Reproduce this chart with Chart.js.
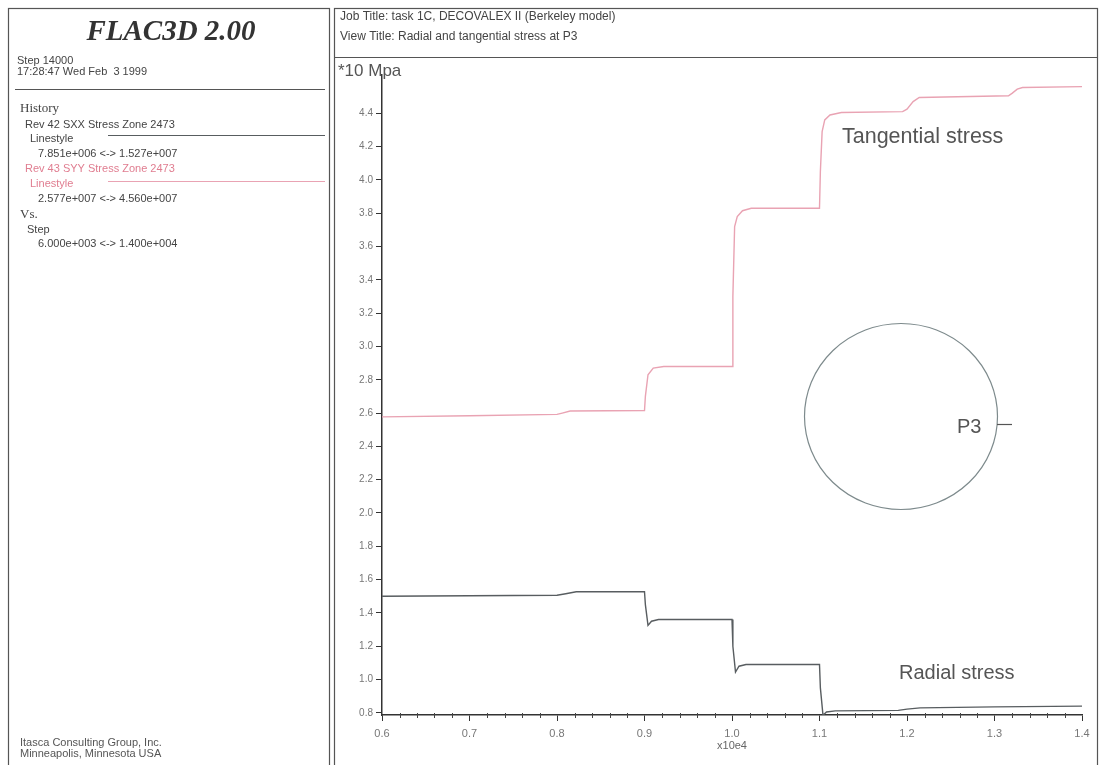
<!DOCTYPE html>
<html>
<head>
<meta charset="utf-8">
<title>FLAC3D 2.00 - Radial and tangential stress at P3</title>
<script src="https://cdn.jsdelivr.net/npm/chart.js@4.4.1/dist/chart.umd.min.js"></script>
<style>
  html, body { margin: 0; padding: 0; background: #ffffff; }
  #wrap { position: relative; width: 1101px; height: 765px; }
  canvas { display: block; }
</style>
</head>
<body>
<div id="wrap"><canvas id="plot" width="1101" height="765"></canvas></div>
<script>
// Step axis is in units of 10^4 steps, stresses in units of 10 MPa.
const xTicks = [0.6, 0.7, 0.8, 0.9, 1.0, 1.1, 1.2, 1.3, 1.4];
const yTicks = [0.8, 1.0, 1.2, 1.4, 1.6, 1.8, 2.0, 2.2, 2.4, 2.6, 2.8, 3.0, 3.2, 3.4, 3.6, 3.8, 4.0, 4.2, 4.4];

// Rev 43 SYY - tangential stress history
const tangentialStep = [0.600, 0.700, 0.800, 0.806, 0.815, 0.900, 0.901, 0.904, 0.910, 0.922,
                        1.000, 1.001, 1.003, 1.006, 1.012, 1.022, 1.100, 1.101, 1.103, 1.106,
                        1.112, 1.125, 1.195, 1.200, 1.207, 1.214, 1.316, 1.320, 1.326, 1.332, 1.400];
const tangential     = [2.577, 2.584, 2.592, 2.600, 2.612, 2.615, 2.70, 2.83, 2.870, 2.880,
                        2.880, 3.30, 3.72, 3.780, 3.815, 3.830, 3.830, 4.05, 4.290, 4.360,
                        4.390, 4.405, 4.410, 4.425, 4.470, 4.495, 4.505, 4.520, 4.545, 4.555, 4.560];

// Rev 42 SXX - radial stress history
const radialStep = [0.600, 0.700, 0.800, 0.810, 0.822, 0.900, 0.901, 0.904, 0.908, 0.916,
                    1.000, 1.001, 1.004, 1.008, 1.016, 1.100, 1.101, 1.104, 1.108, 1.118,
                    1.190, 1.200, 1.215, 1.300, 1.400];
const radial     = [1.500, 1.503, 1.506, 1.515, 1.527, 1.527, 1.45, 1.325, 1.350, 1.360,
                    1.360, 1.20, 1.045, 1.080, 1.090, 1.090, 0.95, 0.7851, 0.805, 0.812,
                    0.815, 0.822, 0.830, 0.836, 0.840];

const PINK = '#e9a3b3';
const DARK = '#585d60';

function pairs(xs, ys) { return xs.map((x, i) => ({ x: x, y: ys[i] })); }

// Frames, header and side panel text of the FLAC3D plot sheet
const sheet = {
  id: 'sheet',
  beforeDraw(chart) {
    const c = chart.ctx;
    c.save();
    c.fillStyle = '#ffffff';
    c.fillRect(0, 0, chart.width, chart.height);
    c.strokeStyle = '#555';
    c.lineWidth = 1.2;
    // left info panel
    c.strokeRect(8.5, 8.5, 321, 770);
    // right plot panel
    c.strokeRect(334.5, 8.5, 763, 770);
    c.beginPath(); c.moveTo(335, 57.5); c.lineTo(1097, 57.5); c.stroke();
    c.beginPath(); c.moveTo(15, 89.5); c.lineTo(325, 89.5); c.lineWidth = 1; c.stroke();

    c.textBaseline = 'middle';
    c.textAlign = 'center';
    c.fillStyle = '#333';
    c.font = 'bold italic 29px "Liberation Serif"';
    c.fillText('FLAC3D 2.00', 171, 33);

    c.textAlign = 'left';
    c.fillStyle = '#444';
    c.font = '11px "Liberation Sans"';
    c.fillText('Step 14000', 17, 61);
    c.fillText('17:28:47 Wed Feb  3 1999', 17, 72);

    c.font = '13px "Liberation Serif"';
    c.fillText('History', 20, 109);
    c.font = '11px "Liberation Sans"';
    c.fillText('Rev 42 SXX Stress Zone 2473', 25, 125);
    c.fillText('Linestyle', 30, 139);
    c.fillText('7.851e+006 <-> 1.527e+007', 38, 154);
    c.fillStyle = '#e07d90';
    c.fillText('Rev 43 SYY Stress Zone 2473', 25, 169);
    c.fillText('Linestyle', 30, 184);
    c.fillStyle = '#444';
    c.fillText('2.577e+007 <-> 4.560e+007', 38, 199);
    c.font = '13px "Liberation Serif"';
    c.fillText('Vs.', 20, 215);
    c.font = '11px "Liberation Sans"';
    c.fillText('Step', 27, 230);
    c.fillText('6.000e+003 <-> 1.400e+004', 38, 244);

    c.lineWidth = 1.2;
    c.strokeStyle = DARK;
    c.beginPath(); c.moveTo(108, 135.5); c.lineTo(325, 135.5); c.stroke();
    c.strokeStyle = PINK;
    c.beginPath(); c.moveTo(108, 181.5); c.lineTo(325, 181.5); c.stroke();

    c.fillStyle = '#555';
    c.fillText('Itasca Consulting Group, Inc.', 20, 743);
    c.fillText('Minneapolis, Minnesota USA', 20, 754);

    c.fillStyle = '#444';
    c.font = '12px "Liberation Sans"';
    c.fillText('Job Title: task 1C, DECOVALEX II (Berkeley model)', 340, 17);
    c.fillText('View Title: Radial and tangential stress at P3', 340, 37);

    c.fillStyle = '#555';
    c.font = '17px "Liberation Sans"';
    c.fillText('*10 Mpa', 338, 71);
    c.restore();
  },
  afterDraw(chart) {
    const c = chart.ctx;
    const xs = chart.scales.x;
    const a = chart.chartArea;
    c.save();
    // minor ticks on the step axis
    c.strokeStyle = '#444';
    c.lineWidth = 1;
    for (let i = 0; i < xTicks.length - 1; i++) {
      for (let k = 1; k < 5; k++) {
        const v = xTicks[i] + (xTicks[i + 1] - xTicks[i]) * k / 5;
        const px = Math.round(xs.getPixelForValue(v)) + 0.5;
        c.beginPath(); c.moveTo(px, a.bottom - 2); c.lineTo(px, a.bottom + 3); c.stroke();
      }
    }
    // tunnel section with the monitoring point P3
    c.strokeStyle = '#7d8a8c';
    c.lineWidth = 1.2;
    c.beginPath(); c.ellipse(901, 416.5, 96.5, 93, 0, 0, Math.PI * 2); c.stroke();
    c.strokeStyle = '#555';
    c.beginPath(); c.moveTo(997, 424.5); c.lineTo(1012, 424.5); c.stroke();

    c.fillStyle = '#555';
    c.textBaseline = 'middle';
    c.textAlign = 'left';
    c.font = '20px "Liberation Sans"';
    c.fillText('P3', 957, 427);
    c.font = '21.5px "Liberation Sans"';
    c.fillText('Tangential stress', 842, 137);
    c.font = '20px "Liberation Sans"';
    c.fillText('Radial stress', 899, 673);
    c.restore();
  }
};

new Chart(document.getElementById('plot'), {
  type: 'line',
  data: {
    datasets: [
      { label: 'Rev 42 SXX Stress Zone 2473', data: pairs(radialStep, radial),
        borderColor: DARK, borderWidth: 1.4, pointRadius: 0, tension: 0, fill: false },
      { label: 'Rev 43 SYY Stress Zone 2473', data: pairs(tangentialStep, tangential),
        borderColor: PINK, borderWidth: 1.4, pointRadius: 0, tension: 0, fill: false }
    ]
  },
  options: {
    responsive: false,
    animation: false,
    events: [],
    layout: { padding: { left: 338, top: 75, right: 19, bottom: 8 } },
    plugins: { legend: { display: false }, tooltip: { enabled: false }, title: { display: false } },
    scales: {
      x: {
        type: 'linear', min: 0.6, max: 1.4,
        afterBuildTicks: s => { s.ticks = xTicks.map(v => ({ value: v })); },
        afterFit: s => { s.height = 42; },
        border: { display: true, color: '#333', width: 1.5 },
        grid: { drawOnChartArea: false, drawTicks: true, tickLength: 6, color: '#333' },
        ticks: { color: '#777', font: { family: 'Liberation Sans', size: 11 }, padding: 6,
                 maxRotation: 0, callback: v => Number(v).toFixed(1) },
        title: { display: true, text: 'x10e4', color: '#666', font: { family: 'Liberation Sans', size: 11 }, padding: { top: 6 } }
      },
      y: {
        type: 'linear', min: 0.787, max: 4.63,
        afterBuildTicks: s => { s.ticks = yTicks.map(v => ({ value: v })); },
        afterFit: s => { s.width = 44; },
        border: { display: true, color: '#333', width: 1.5 },
        grid: { drawOnChartArea: false, drawTicks: true, tickLength: 6, color: '#333' },
        ticks: { color: '#777', font: { family: 'Liberation Sans', size: 10 }, padding: 3,
                 callback: v => Number(v).toFixed(1) }
      }
    }
  },
  plugins: [sheet]
});
</script>
</body>
</html>
